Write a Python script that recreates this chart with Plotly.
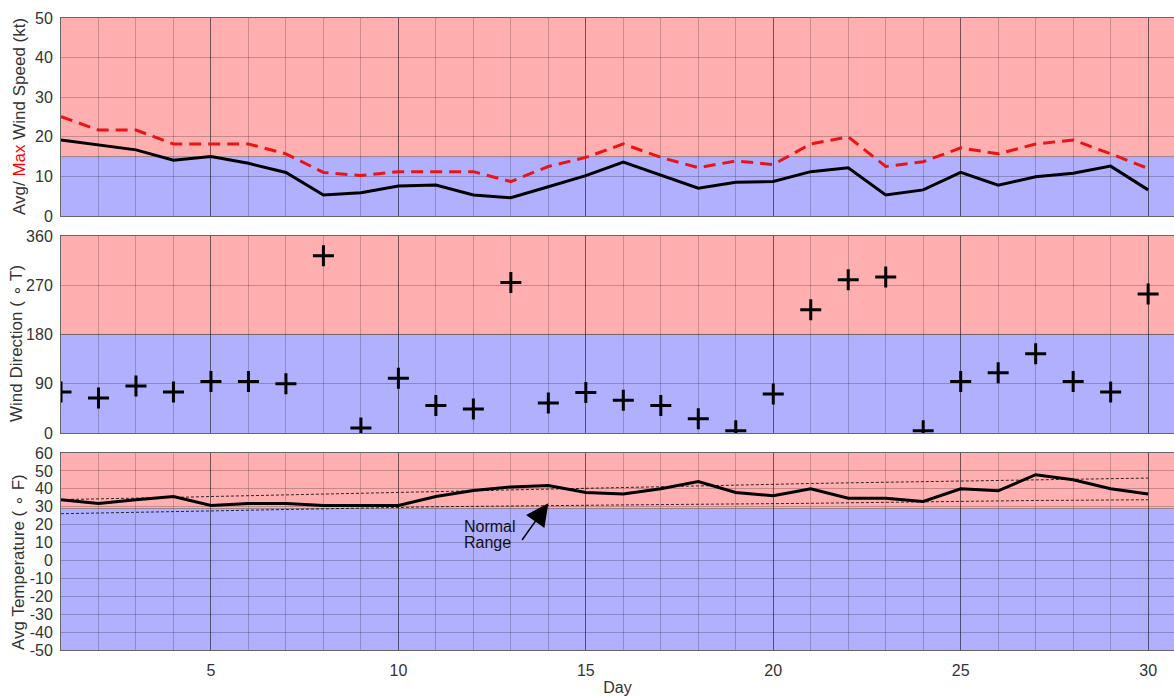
import plotly.graph_objects as go
from plotly.subplots import make_subplots

days = list(range(1, 31))

wind_avg = [19.2, 17.9, 16.7, 14.1, 15.0, 13.3, 11.0, 5.3, 5.9, 7.6,
            7.8, 5.3, 4.6, 7.4, 10.2, 13.6, 10.4, 7.0, 8.5, 8.7,
            11.2, 12.2, 5.3, 6.6, 11.0, 7.8, 9.9, 10.8, 12.6, 6.6]
wind_max = [25.1, 21.7, 21.7, 18.2, 18.2, 18.2, 15.7, 11.0, 10.2, 11.2,
            11.2, 11.2, 8.7, 12.5, 14.8, 18.2, 14.8, 12.2, 13.9, 13.0,
            18.2, 20.0, 12.5, 13.7, 17.2, 15.7, 18.2, 19.2, 15.7, 12.0]
wind_dir = [75, 64, 86, 75, 94, 94, 90, 324, 9, 100,
            50, 44, 275, 55, 74, 60, 50, 26, 4, 71,
            225, 280, 285, 4, 94, 110, 145, 94, 75, 254]
temp_avg = [33.9, 31.8, 33.9, 35.7, 30.7, 31.8, 31.8, 30.7, 30.7, 30.7,
            35.7, 39.1, 41.0, 41.9, 38.0, 37.1, 40.0, 44.1, 38.0, 36.1,
            40.0, 34.8, 34.8, 32.9, 40.0, 38.9, 47.9, 45.1, 40.0, 37.1]
normal_hi = [34.0, 34.3, 34.7, 35.2, 35.7, 36.1, 36.6, 37.0, 37.5, 38.0,
             38.4, 38.9, 39.4, 39.8, 40.3, 40.7, 41.2, 41.6, 42.1, 42.5,
             43.0, 43.3, 43.7, 44.0, 44.3, 44.6, 45.0, 45.3, 45.6, 46.0]
normal_lo = [26.1, 26.5, 26.9, 27.4, 27.9, 28.3, 28.7, 29.1, 29.4, 29.8,
             30.0, 30.2, 30.5, 30.7, 30.8, 31.0, 31.2, 31.3, 31.5, 31.6,
             31.9, 32.2, 32.5, 32.8, 33.3, 33.4, 33.5, 33.6, 33.8, 33.9]

speed_ticks = [0, 10, 20, 30, 40, 50]
dir_ticks = [0, 90, 180, 270, 360]
temp_ticks = [-50, -40, -30, -20, -10, 0, 10, 20, 30, 40, 50, 60]
temp_ticklabels = ["-50", "-40", "-30", "-20", "-10", "0", "10", "20", "30", "40", "50", "60"]

speed_limit, dir_limit, temp_limit = 15, 180, 29
speed_range, dir_range, temp_range = [0, 50], [0, 360], [-50, 60]
x_range = [1, 30.69]

RED_BG = "rgb(255,175,175)"
BLUE_BG = "rgb(176,176,255)"
FONT = "Liberation Sans, Arial, sans-serif"
TXT = "#333333"

W, H = 1174, 696
ML, MR, MT, MB = 61, 0, 18, 46
PW, PH = W - ML - MR, H - MT - MB

fig = make_subplots(rows=3, cols=1, shared_xaxes=True, vertical_spacing=0.03)

fig.add_trace(go.Scatter(x=days, y=wind_max, mode="lines",
                         line=dict(color="rgb(235,20,20)", width=3, dash="12px,7px")), row=1, col=1)
fig.add_trace(go.Scatter(x=days, y=wind_avg, mode="lines",
                         line=dict(color="black", width=3)), row=1, col=1)
fig.add_trace(go.Scatter(x=days, y=wind_dir, mode="markers",
                         marker=dict(symbol="cross-thin", size=15,
                                     line=dict(color="black", width=3))), row=2, col=1)
fig.add_trace(go.Scatter(x=days, y=normal_hi, mode="lines",
                         line=dict(color="rgba(0,0,0,0.8)", width=1, dash="3px,2px")), row=3, col=1)
fig.add_trace(go.Scatter(x=days, y=normal_lo, mode="lines",
                         line=dict(color="rgba(0,0,0,0.8)", width=1, dash="3px,2px")), row=3, col=1)
fig.add_trace(go.Scatter(x=days, y=temp_avg, mode="lines",
                         line=dict(color="black", width=3)), row=3, col=1)

# background bands
bands = [("y", speed_range, speed_limit), ("y2", dir_range, dir_limit), ("y3", temp_range, temp_limit)]
for i, (yref, rng, lim) in enumerate(bands):
    xref = "x domain" if i == 0 else f"x{i+1} domain"
    fig.add_shape(type="rect", xref=xref, yref=yref, x0=0, x1=1, y0=rng[0], y1=lim,
                  fillcolor=BLUE_BG, line=dict(width=0), layer="below")
    fig.add_shape(type="rect", xref=xref, yref=yref, x0=0, x1=1, y0=lim, y1=rng[1],
                  fillcolor=RED_BG, line=dict(width=0), layer="below")
    fig.add_shape(type="line", xref=xref, yref=yref, x0=0, x1=1, y0=lim, y1=lim,
                  line=dict(color="rgba(0,0,0,0.35)", width=1), layer="below")

domains = [[0.6867, 1.0], [0.3434, 0.6551], [0.0, 0.3117]]
ytitles = ['Avg/ <span style="color:red">Max</span> Wind Speed (kt)',
           'Wind Direction ( ∘ T)',
           'Avg Temperature ( ∘ F)']
title_px = [(20, 117), (16, 344), (18, 562)]
yticks = [speed_ticks, dir_ticks, temp_ticks]
yticktext = [[str(v) for v in speed_ticks], [str(v) for v in dir_ticks], temp_ticklabels]
yranges = [speed_range, dir_range, temp_range]

for i in range(3):
    ax = "yaxis" if i == 0 else f"yaxis{i+1}"
    xa = "xaxis" if i == 0 else f"xaxis{i+1}"
    fig.layout[ax].update(domain=domains[i], range=yranges[i],
                          tickvals=yticks[i], ticktext=yticktext[i],
                          showgrid=True, gridcolor="rgba(0,0,0,0.22)", gridwidth=1,
                          zeroline=False, showline=True, linecolor="rgba(0,0,0,0.6)",
                          ticks="", ticklabelstandoff=4, automargin=False,
                          tickfont=dict(family=FONT, size=16, color=TXT))
    fig.layout[xa].update(range=x_range, tick0=0, dtick=5,
                          showgrid=True, gridcolor="rgba(0,0,0,0.55)", gridwidth=1,
                          minor=dict(dtick=1, tick0=0, showgrid=True,
                                     gridcolor="rgba(0,0,0,0.2)", gridwidth=1, ticks=""),
                          zeroline=False, showline=True, mirror=True,
                          linecolor="rgba(0,0,0,0.6)", ticks="",
                          showticklabels=(i == 2), automargin=False,
                          ticklabelstandoff=6,
                          tickfont=dict(family=FONT, size=16, color=TXT))
    px, py = title_px[i]
    fig.add_annotation(xref="paper", yref="paper",
                       x=(px - ML) / PW, y=(H - MB - py) / PH,
                       xanchor="center", yanchor="middle", textangle=-90,
                       text=ytitles[i], showarrow=False,
                       font=dict(family=FONT, size=17, color=TXT))

fig.layout.xaxis3.title = dict(text="Day", standoff=4, font=dict(family=FONT, size=16, color=TXT))

# Normal range annotation
fig.add_annotation(x=14, y=32, xref="x3", yref="y3", ax=13.27, ay=10.6, axref="x3", ayref="y3",
                   text="", showarrow=True, arrowhead=2, arrowsize=3, arrowwidth=1.5,
                   arrowcolor="black")
fig.add_annotation(x=11.71, y=18.8, xref="x3", yref="y3", text="Normal",
                   showarrow=False, xanchor="left", yanchor="middle",
                   font=dict(family=FONT, size=16, color="#111111"))
fig.add_annotation(x=11.71, y=9.8, xref="x3", yref="y3", text="Range",
                   showarrow=False, xanchor="left", yanchor="middle",
                   font=dict(family=FONT, size=16, color="#111111"))

fig.update_layout(width=W, height=H, showlegend=False,
                  paper_bgcolor="white", plot_bgcolor="white",
                  margin=dict(l=ML, r=MR, t=MT, b=MB))

fig.write_html("out.html", config={"displayModeBar": False},
               post_script="document.body.style.margin='0px';")
